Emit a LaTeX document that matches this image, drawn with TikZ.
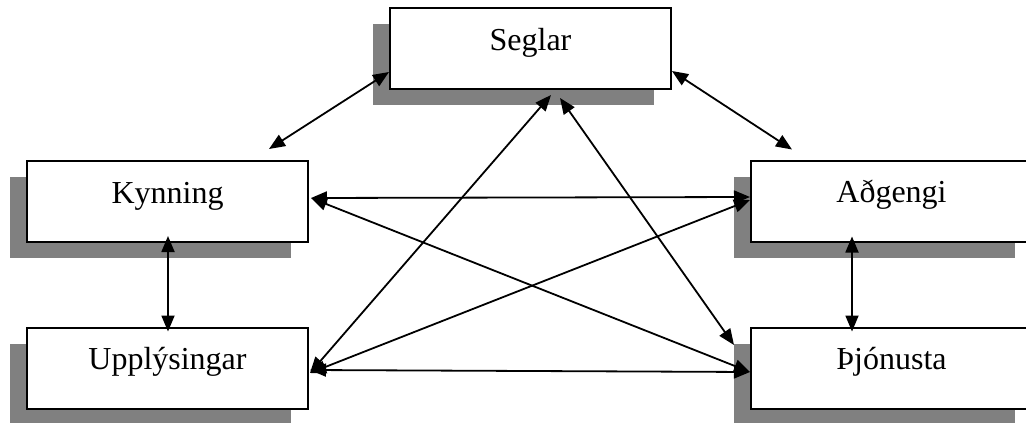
\documentclass[tikz,border=0pt]{standalone}
\usepackage{fontspec}
\setmainfont{Liberation Serif}
\usetikzlibrary{arrows.meta,shadows}

\begin{document}
\begin{tikzpicture}[x=1pt,y=-1pt,
    box/.style={draw,line width=2pt,fill=white,minimum width=281pt,
      inner sep=0pt,text height=42pt,text depth=39pt,
      font=\fontsize{32}{38}\selectfont,
      drop shadow={shadow xshift=-17pt,shadow yshift=-16pt,fill=black!50,opacity=1}},
    link/.style={{Triangle[length=16pt,width=13pt]}-{Triangle[length=16pt,width=13pt]},line width=1.8pt}]

      \useasboundingbox (0,0) rectangle (1026,423);
      \clip (0,0) rectangle (1026,423);

      \begin{scope}[every node/.style={box}]
        \node (1) at (530.5,48.5) {Seglar};
        \node (2) at (167.5,201.5) {Kynning};
        \node (3) at (891.5,201) {Aðgengi};
        \node (4) at (167.5,368) {Upplýsingar};
        \node (5) at (891.5,368) {Þjónusta};
      \end{scope}

      \begin{scope}[every path/.style={link}]
        \draw ([yshift=-23.5pt]1.west) -- ([xshift=101.5pt,yshift=11pt]2.north);
        \draw ([yshift=-22.5pt]1.east) -- ([xshift=-99.5pt,yshift=10pt]3.north);
        \draw ([xshift=20.5pt,yshift=-5pt]1.south) -- ([xshift=1pt,yshift=-5pt]4.east);
        \draw ([xshift=29.5pt,yshift=-8pt]1.south) -- ([xshift=-16pt,yshift=23pt]5.west);
        \draw ([xshift=2pt,yshift=3.5pt]2.east) -- ([yshift=4pt]3.west);
        \draw ([xshift=2pt,yshift=3.5pt]2.east) -- ([yshift=-4pt]5.west);
        \draw ([xshift=1pt,yshift=-5pt]4.east) -- ([yshift=1pt]3.west);
        \draw ([xshift=1pt,yshift=-2pt]4.east) -- ([yshift=-4pt]5.west);
        \draw ([xshift=0.5pt,yshift=7pt]2.south) -- ([xshift=0.5pt,yshift=-5pt]4.north);
        \draw ([xshift=-39.5pt,yshift=6pt]3.south) -- ([xshift=-39.5pt,yshift=-5pt]5.north);
      \end{scope}

    \end{tikzpicture}
\end{document}
